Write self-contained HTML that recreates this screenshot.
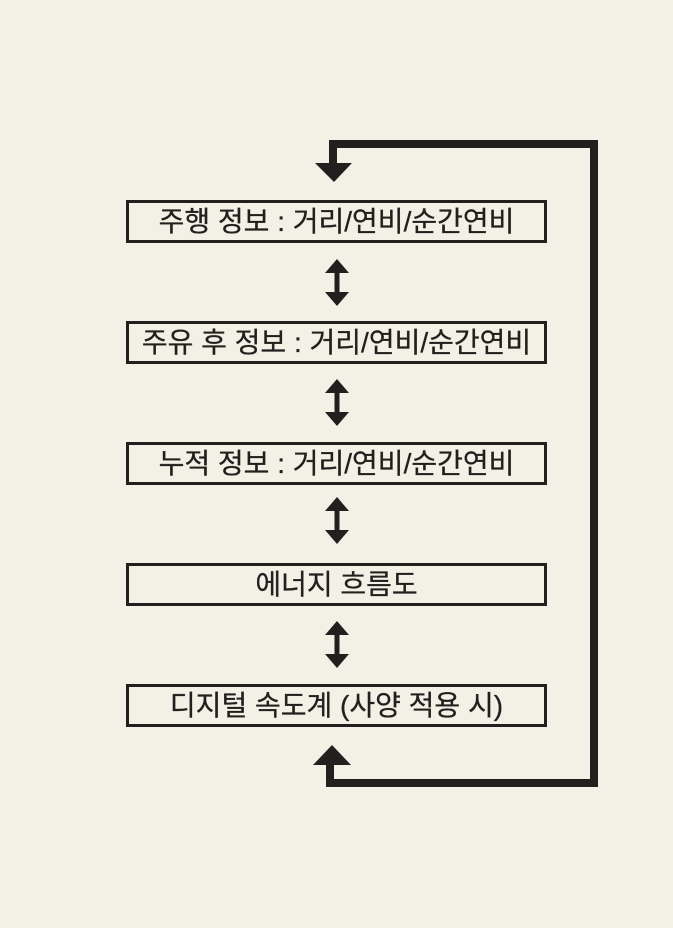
<!DOCTYPE html>
<html><head><meta charset="utf-8"><style>
html,body{margin:0;padding:0;background:#f3f0e5;}
body{width:673px;height:928px;position:relative;overflow:hidden;font-family:"Liberation Sans","Noto Sans CJK KR",sans-serif;}
.b{position:absolute;left:126px;width:415px;height:37px;border:3.5px solid #231f1e;box-sizing:content-box;text-align:center;line-height:37px;font-size:28px;color:#231f1e;letter-spacing:0px;-webkit-text-stroke:0.3px #231f1e;white-space:nowrap;}
svg{position:absolute;left:0;top:0;}
</style></head><body>
<svg width="673" height="928">
<g fill="#231f1e" stroke="none">
<polyline points="333,164 333,144 594,144 594,783 330,783 330,764" fill="none" stroke="#231f1e" stroke-width="8"/>
<polygon points="315,163 352,163 334,182"/>
<polygon points="313,765 351,765 332,745"/>
</g>
<g fill="#231f1e">
<g id="d"><rect x="334.5" y="268" width="5" height="28"/><polygon points="325,273 349,273 337,259"/><polygon points="325,292 349,292 337,306"/></g>
<use href="#d" transform="translate(0,120)"/>
<use href="#d" transform="translate(0,238)"/>
<use href="#d" transform="translate(0,362)"/>
</g>
</svg>
<div class="b" style="top:200px">주행 정보 : 거리/연비/순간연비</div>
<div class="b" style="top:321px">주유 후 정보 : 거리/연비/순간연비</div>
<div class="b" style="top:442px">누적 정보 : 거리/연비/순간연비</div>
<div class="b" style="top:563px">에너지 흐름도</div>
<div class="b" style="top:684px">디지털 속도계 (사양 적용 시)</div>
</body></html>
